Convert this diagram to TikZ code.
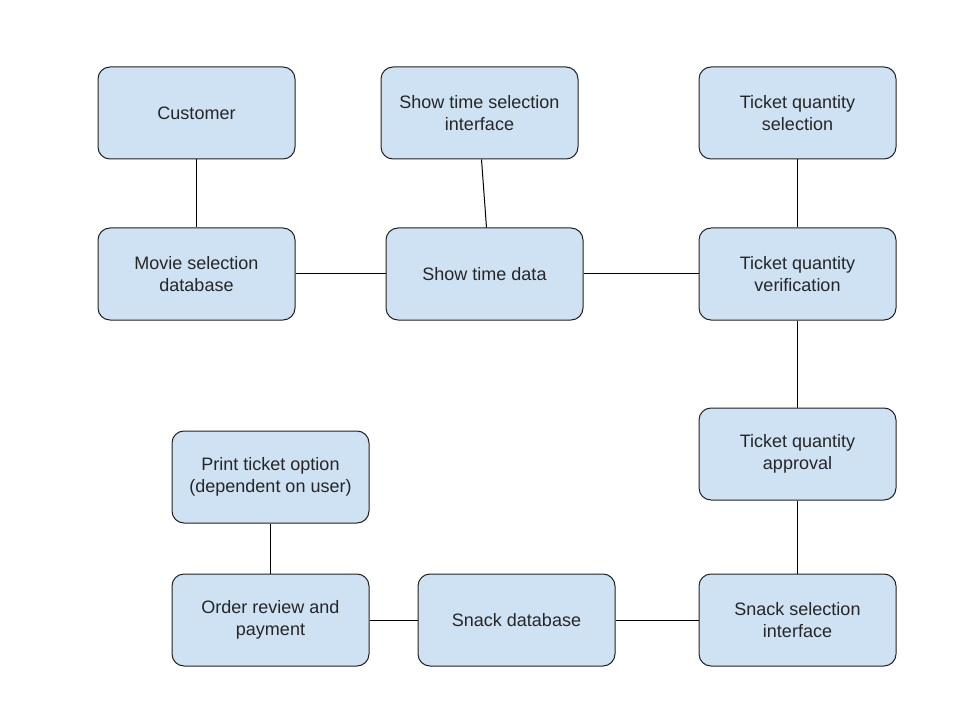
\documentclass[tikz,border=0pt]{standalone}
\usepackage{fontspec}
\setmainfont{Liberation Sans}
\definecolor{boxfill}{HTML}{CFE2F3}
\definecolor{boxline}{HTML}{222222}
\begin{document}
\begin{tikzpicture}[x=0.75pt,y=-0.75pt,
  box/.style={draw=boxline,fill=boxfill,line width=0.75pt,rounded corners=9pt,
    minimum width=147.75pt,minimum height=69pt,align=center,inner sep=2pt,
    font=\fontsize{13.5pt}{16.5pt}\selectfont,text=black!85},
  link/.style={draw=black,line width=0.75pt}]
\useasboundingbox (0,0) rectangle (960,720);
\node[box] (cust) at (196.5,113) {Customer};
\node[box] (stsi) at (479.5,113) {Show time selection\\interface};
\node[box] (tqs) at (797.5,113) {Ticket quantity\\selection};
\node[box] (msd) at (196.5,274) {Movie selection\\database};
\node[box] (std) at (484.5,274) {Show time data};
\node[box] (tqv) at (797.5,274) {Ticket quantity\\verification};
\node[box] (tqa) at (797.5,454) {Ticket quantity\\approval};
\node[box] (pto) at (270.5,477) {Print ticket option\\(dependent on user)};
\node[box] (orp) at (270.5,620) {Order review and\\payment};
\node[box] (snd) at (516.5,620) {Snack database};
\node[box] (ssi) at (797.5,620) {Snack selection\\interface};
\draw[link] (cust) -- (msd);
\draw[link] (msd) -- (std);
\draw[link] ([xshift=1.5]stsi.south) -- ([xshift=1.5]std.north);
\draw[link] (std) -- (tqv);
\draw[link] (tqs) -- (tqv);
\draw[link] (tqv) -- (tqa);
\draw[link] (tqa) -- (ssi);
\draw[link] (ssi) -- (snd);
\draw[link] (snd) -- (orp);
\draw[link] (orp) -- (pto);
\end{tikzpicture}
\end{document}
